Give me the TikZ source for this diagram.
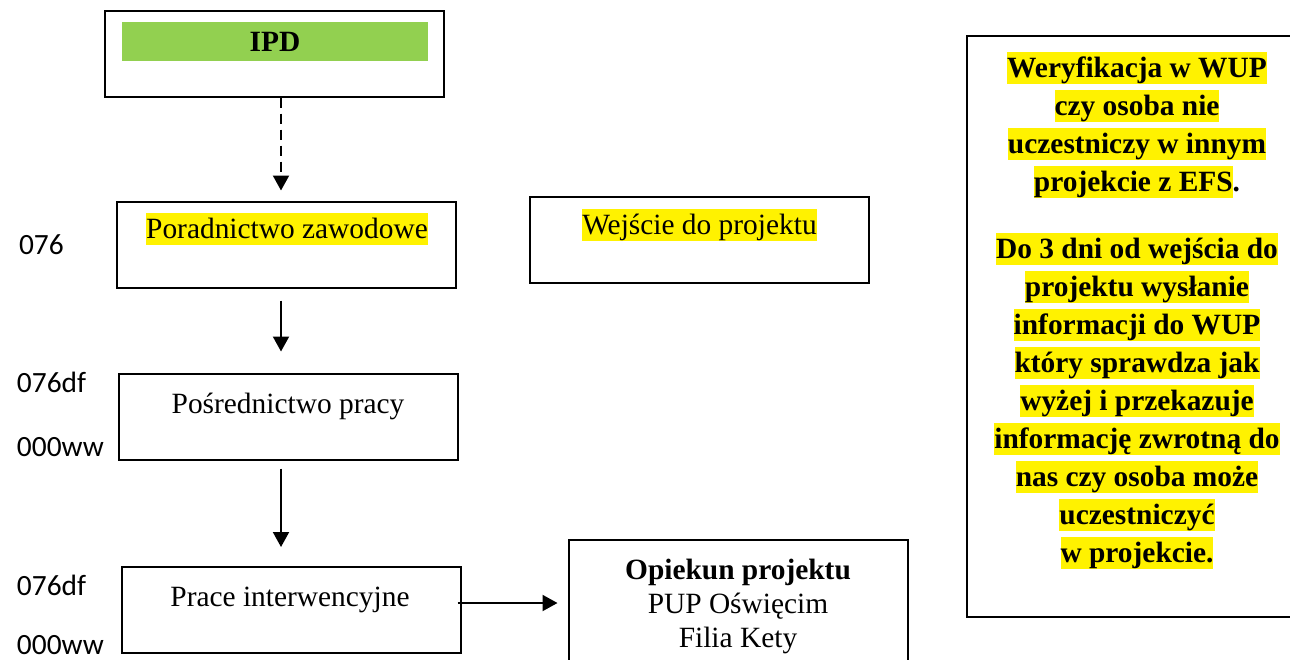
\documentclass[tikz,border=0pt]{standalone}
\usepackage{fontspec}
\setmainfont{Liberation Serif}
\newfontfamily\calibri{Carlito}
\usetikzlibrary{arrows.meta, calc, positioning}
\definecolor{ipdgreen}{RGB}{146,208,80}
\newcommand{\hl}[1]{{\setlength{\fboxsep}{0pt}\colorbox{yellow}{\rule[-3.2pt]{0pt}{16.3pt}#1}}}

\begin{document}
\begin{tikzpicture}[x=0.5pt, y=-0.5pt, line width=1pt,
  box/.style={shape=rectangle, minimum width=169.5pt, minimum height=43pt, draw=black, inner sep=0pt},
  txt/.style={inner sep=0pt, font=\fontsize{14.7}{17}\selectfont},
  lbl/.style={inner sep=0pt, anchor=west, font=\calibri\fontsize{14.7}{17}\selectfont},
  arr/.style={-{Triangle[width=8pt, length=7.5pt]}}]
\clip (0,0) rectangle (1290,659);
\node[box] (ipd) at (274.5,53.5) {};
\node[fill=ipdgreen, minimum width=153pt, minimum height=19.5pt, inner sep=0pt, font=\bfseries\fontsize{14.7}{17}\selectfont] (bar) at (275,41.5) {IPD};
\node[box] (por) at (286.5,244.5) {};
\node[txt] (portxt) at (287,229) {\hl{Poradnictwo zawodowe}};
\node[box] (wej) at (699.5,240) {};
\node[txt] (wejtxt) at (699.5,225) {\hl{Wejście do projektu}};
\node[box] (pos) at (288.5,416.5) {};
\node[txt] (postxt) at (288,406) {Pośrednictwo pracy};
\node[box] (prc) at (291,610) {};
\node[txt] (prctxt) at (290,600) {Prace interwencyjne};
\node[box, minimum height=80pt] (opk) at (738,620) {};
\node[txt, align=center, font=\fontsize{14.7}{17}\selectfont] (opktxt) at (738,606) {\textbf{Opiekun projektu}\\PUP Oświęcim\\Filia Kety};
\node[box, minimum width=171.5pt, minimum height=290.5pt] (info) at (1138.5,326.5) {};
\node[txt, align=center, font=\bfseries\fontsize{14.7}{19}\selectfont] (infotxt) at (1137,310.5) {\hl{Weryfikacja w WUP}\\
\hl{czy osoba nie}\\
\hl{uczestniczy w innym}\\
\hl{projekcie z EFS}.\\[14.5pt]
\hl{Do 3 dni od wejścia do}\\
\hl{projektu wysłanie}\\
\hl{informacji do WUP}\\
\hl{który sprawdza jak}\\
\hl{wyżej i przekazuje}\\
\hl{informację zwrotną do}\\
\hl{nas czy osoba może}\\
\hl{uczestniczyć}\\
\hl{w projekcie.}};
% side labels
\node[lbl] (l1) at (18,245) {076};
\node[lbl] (l2) at (16,382) {076df};
\node[lbl] (l3) at (16,447) {000ww};
\node[lbl] (l4) at (16,585) {076df};
\node[lbl] (l5) at (16,645) {000ww};
% connectors
\coordinate (axis) at (281,0);
\draw[arr, dash pattern=on 5pt off 3pt, shorten >=5pt] (ipd.south -| axis) -- (por.north -| axis);
\draw[arr, shorten <=6pt, shorten >=10.5pt] (por.south -| axis) -- (pos.north -| axis);
\draw[arr, shorten <=4pt, shorten >=9.5pt] (pos.south -| axis) -- (prc.north -| axis);
\draw[arr, shorten <=-2pt, shorten >=5pt] ([yshift=3.5pt]prc.east) -- ([yshift=3.5pt]prc.east -| opk.west);
\end{tikzpicture}
\end{document}
